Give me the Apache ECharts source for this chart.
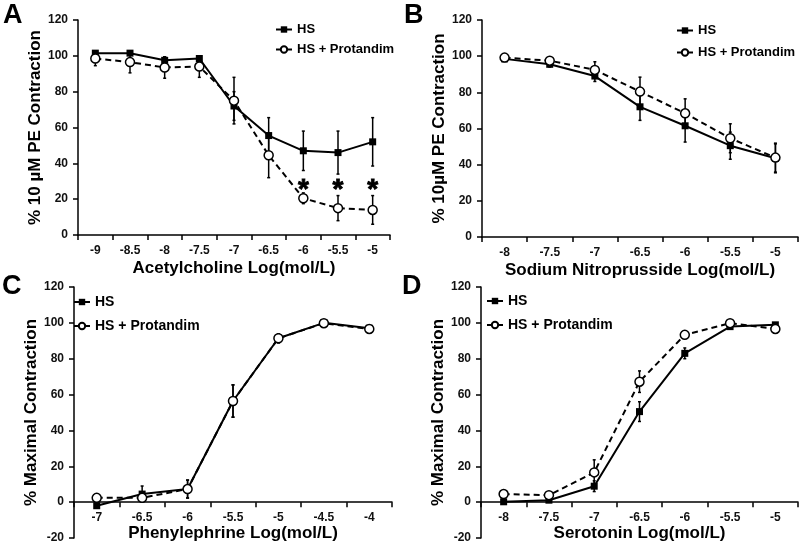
<!DOCTYPE html>
<html><head><meta charset="utf-8">
<script src="https://cdn.jsdelivr.net/npm/echarts@6/dist/echarts.min.js"></script>
<style>html,body{margin:0;padding:0;background:#fff}#c{width:800px;height:546px}</style>
</head><body><div id="c"></div>
<script>
// Panel A: Acetylcholine
const catA = ['-9','-8.5','-8','-7.5','-7','-6.5','-6','-5.5','-5'];
const hsA = [101.5,101.5,97.5,98.5,72,55.5,47,46,52];
const hsAErr = [1,1,2,1.5,8,10,11,12,13.5];
const prA = [98.5,96.5,93.5,94,75,44.5,20.5,15,14];
const prAErr = [4,6,6,6,13,12.5,3,7,8];
const starCatA = ['-6','-5.5','-5'];
const starValA = [28,28,28];
// Panel B: Sodium Nitroprusside
const catB = ['-8','-7.5','-7','-6.5','-6','-5.5','-5'];
const hsB = [98.5,95.5,89,72,61.5,50.5,43.5];
const hsBErr = [1,1.5,3,7.5,9,7.5,8];
const prB = [99.2,97.5,92.4,80.4,68.4,54.6,43.9];
const prBErr = [1,1,4.5,8,8,8,8];
// Panel C: Phenylephrine
const catC = ['-7','-6.5','-6','-5.5','-5','-4.5','-4'];
const hsC = [-2,4.5,7.3,56.4,91.4,100,97];
const hsCErr = [1,4.5,5,9,2.5,1,1];
const prC = [2.4,2.4,7.3,56.4,91.4,99.8,96.6];
const prCErr = [1,1,5,9,2.5,1,1];
// Panel D: Serotonin
const catD = ['-8','-7.5','-7','-6.5','-6','-5.5','-5'];
const hsD = [0.2,1.1,8.9,50.5,83,97.9,98.9];
const hsDErr = [0.5,0.5,3,5.5,3,1,1];
const prD = [4.5,3.9,16.6,67.2,93.3,99.8,96.6];
const prDErr = [2,1.5,7,6,1.5,1,1];

const yTicksAB = {min:0, max:120, interval:20};
const yTicksCD = {min:-20, max:120, interval:20};

const FONT = 'Liberation Sans, Arial, sans-serif';
const chart = echarts.init(document.getElementById('c'), null, {renderer:'canvas'});

const panels = [
  {cat:catA, hs:hsA, hsE:hsAErr, pr:prA, prE:prAErr, y:yTicksAB, xName:'Acetylcholine Log(mol/L)', yName:'% 10 µM PE Contraction',
   grid:{left:78, top:20, width:312, height:215}, xGap:25, yGap:34, legend:{left:270, top:18, itemGap:7, fontSize:13}},
  {cat:catB, hs:hsB, hsE:hsBErr, pr:prB, prE:prBErr, y:yTicksAB, xName:'Sodium Nitroprusside Log(mol/L)', yName:'% 10µM PE Contraction',
   grid:{left:482, top:20, width:316, height:217}, xGap:25, yGap:33, legend:{left:671, top:19, itemGap:9, fontSize:13}},
  {cat:catC, hs:hsC, hsE:hsCErr, pr:prC, prE:prCErr, y:yTicksCD, xName:'Phenylephrine Log(mol/L)', yName:'% Maximal Contraction',
   grid:{left:74, top:287, width:318, height:251}, xGap:15, yGap:30, legend:{left:68, top:290, itemGap:10, fontSize:14}},
  {cat:catD, hs:hsD, hsE:hsDErr, pr:prD, prE:prDErr, y:yTicksCD, xName:'Serotonin Log(mol/L)', yName:'% Maximal Contraction',
   grid:{left:481, top:287, width:317, height:251}, xGap:15, yGap:30, legend:{left:481, top:289, itemGap:10, fontSize:14}}
];

function errRender(params, api) {
  const x = api.value(0), lo = api.value(1), hi = api.value(2);
  const p1 = api.coord([x, hi]);
  const p2 = api.coord([x, lo]);
  const w = 1.5;
  const st = {stroke:'#000', lineWidth:1.5};
  return {type:'group', children:[
    {type:'line', shape:{x1:p1[0], y1:p1[1], x2:p2[0], y2:p2[1]}, style:st},
    {type:'line', shape:{x1:p1[0]-w, y1:p1[1], x2:p1[0]+w, y2:p1[1]}, style:st},
    {type:'line', shape:{x1:p2[0]-w, y1:p2[1], x2:p2[0]+w, y2:p2[1]}, style:st}
  ]};
}

function starRender(params, api) {
  const p = api.coord([api.value(0), api.value(1)]);
  return {type:'text', x:p[0], y:p[1] + 5,
    style:{text:'*', fill:'#000', stroke:'#000', lineWidth:0.8, font:'bold 28px ' + FONT, align:'center', verticalAlign:'middle'}};
}

const grid = [], xAxis = [], yAxis = [], series = [], legend = [];
panels.forEach((p, i) => {
  grid.push(Object.assign({containLabel:false, outerBoundsMode:'none'}, p.grid));
  // place the category axis on the value 0 line (derived from the y range)
  const zeroOffset = -p.grid.height * (0 - p.y.min) / (p.y.max - p.y.min);
  xAxis.push({type:'category', gridIndex:i, data:p.cat, boundaryGap:true, position:'bottom', offset:zeroOffset,
    axisLine:{show:true, onZero:false, lineStyle:{color:'#000', width:1.5}},
    axisTick:{show:true, length:5, lineStyle:{color:'#000', width:1.5}},
    axisLabel:{color:'#111', fontFamily:FONT, fontWeight:'bold', fontSize:12, margin:10},
    name:p.xName, nameLocation:'middle', nameGap:p.xGap,
    nameTextStyle:{color:'#000', fontFamily:FONT, fontWeight:'bold', fontSize:17},
    splitLine:{show:false}});
  yAxis.push({type:'value', gridIndex:i, min:p.y.min, max:p.y.max, interval:p.y.interval,
    axisLine:{show:true, lineStyle:{color:'#000', width:1.5}},
    axisTick:{show:true, length:5, lineStyle:{color:'#000', width:1.5}},
    axisLabel:{color:'#111', fontFamily:FONT, fontWeight:'bold', fontSize:12, margin:10},
    name:p.yName, nameLocation:'middle', nameGap:p.yGap,
    nameTextStyle:{color:'#000', fontFamily:FONT, fontWeight:'bold', fontSize:17},
    splitLine:{show:false}});
  series.push({type:'custom', xAxisIndex:i, yAxisIndex:i, renderItem:errRender, z:1, silent:true,
    data:p.hs.map((v, k) => [k, v - p.hsE[k], v + p.hsE[k]])});
  series.push({type:'custom', xAxisIndex:i, yAxisIndex:i, renderItem:errRender, z:1, silent:true,
    data:p.pr.map((v, k) => [k, v - p.prE[k], v + p.prE[k]])});
  series.push({name:'HS', type:'line', xAxisIndex:i, yAxisIndex:i, data:p.hs, z:3,
    symbol:'rect', symbolSize:7, itemStyle:{color:'#000'},
    lineStyle:{color:'#000', width:2}});
  series.push({name:'HS + Protandim', type:'line', xAxisIndex:i, yAxisIndex:i, data:p.pr, z:4,
    symbol:'circle', symbolSize:9, itemStyle:{color:'#fff', borderColor:'#000', borderWidth:1.5},
    lineStyle:{color:'#000', width:2, type:[6,4]}});
  legend.push({orient:'vertical', left:p.legend.left, top:p.legend.top, itemGap:p.legend.itemGap,
    itemWidth:16, itemHeight:8, data:['HS','HS + Protandim'],
    textStyle:{color:'#000', fontFamily:FONT, fontWeight:'bold', fontSize:p.legend.fontSize}});
});

series.push({type:'custom', xAxisIndex:0, yAxisIndex:0, z:5, silent:true, renderItem:starRender,
  data:starCatA.map((c, k) => [catA.indexOf(c), starValA[k]])});

const letters = [['A',3,2],['B',404,2],['C',2,273],['D',402,273]];
const graphic = letters.map(l => ({type:'text', left:l[1], top:l[2],
  style:{text:l[0], fill:'#000', font:'bold 27px ' + FONT}}));

chart.setOption({animation:false, backgroundColor:'#fff', grid, xAxis, yAxis, series, legend, graphic});
</script></body></html>
